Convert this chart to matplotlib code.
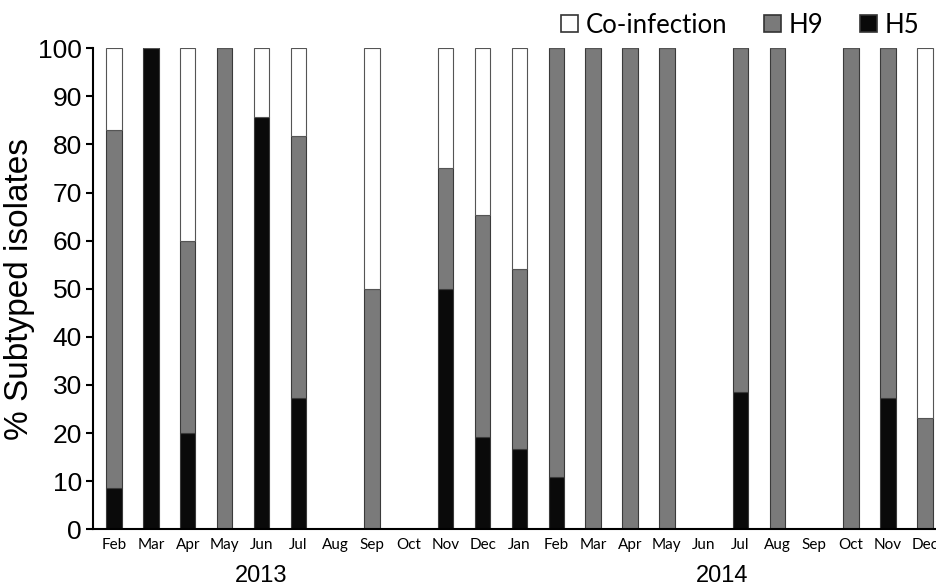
import matplotlib
matplotlib.use("Agg")
import matplotlib.pyplot as plt
import matplotlib.transforms as mtransforms
from matplotlib.patches import Patch
import numpy as np

months = ["Feb", "Mar", "Apr", "May", "Jun", "Jul", "Aug", "Sep", "Oct", "Nov", "Dec",
          "Jan", "Feb", "Mar", "Apr", "May", "Jun", "Jul", "Aug", "Sep", "Oct", "Nov", "Dec"]
h5 = [8.5, 100, 20, 0, 85.7, 27.3, 0, 0, 0, 50, 19.2,
      16.7, 10.8, 0, 0, 0, 0, 28.5, 0, 0, 0, 27.2, 0]
h9 = [74.5, 0, 40, 100, 0, 54.5, 0, 50, 0, 25, 46.2,
      37.5, 89.2, 100, 100, 100, 0, 71.5, 100, 0, 100, 72.8, 23.2]
coinf = [17, 0, 40, 0, 14.3, 18.2, 0, 50, 0, 25, 34.6,
         45.8, 0, 0, 0, 0, 0, 0, 0, 0, 0, 0, 76.8]
years = ["2013", "2014"]
year_pos = [4.0, 16.5]

fig = plt.figure(figsize=(9.37, 5.88), dpi=100)
ax = fig.add_axes([0.0993, 0.0998, 0.9007, 0.8182])

x = np.arange(len(months))
w = 0.42
h5a = np.array(h5); h9a = np.array(h9); coa = np.array(coinf)
ec = "#3a3a3a"
lw = 0.8
ax.bar(x, h5a, w, color="#0a0a0a", edgecolor=ec, linewidth=lw)
ax.bar(x, h9a, w, bottom=h5a, color="#7a7a7a", edgecolor=ec, linewidth=lw)
ax.bar(x, coa, w, bottom=h5a + h9a, color="white", edgecolor="#555555", linewidth=lw)

ax.set_xlim(-0.57, 22.33)
ax.set_ylim(0, 100)
ax.set_yticks(range(0, 101, 10))
ax.set_yticklabels([str(v) for v in range(0, 101, 10)], family="Liberation Sans", fontsize=19)
ax.set_xticks(x)
ax.set_xticklabels(months, family="Lato", fontsize=11)
ax.tick_params(axis="x", length=0, pad=6)
ax.tick_params(axis="y", length=5, width=1.5, direction="out", pad=3)
for s in ["top", "right"]:
    ax.spines[s].set_visible(False)
ax.spines["left"].set_linewidth(1.5)
ax.spines["bottom"].set_linewidth(1.5)
ax.set_ylabel("% Subtyped isolates", family="Liberation Sans", fontsize=24, labelpad=2)

trans = mtransforms.blended_transform_factory(ax.transData, fig.transFigure)
for yl, yp in zip(years, year_pos):
    ax.text(yp, 0.5 / 588, yl, transform=trans, ha="center", va="bottom",
            family="Liberation Sans", fontsize=17)

handles = [Patch(facecolor="white", edgecolor="#333333", linewidth=1.2),
           Patch(facecolor="#7a7a7a", edgecolor="#333333", linewidth=1.2),
           Patch(facecolor="#0a0a0a", edgecolor="#333333", linewidth=1.2)]
fig.legend(handles, ["Co-infection", "H9", "H5"], loc="upper right",
           bbox_to_anchor=(1.006, 1.018), ncol=3, frameon=False,
           prop={"family": "Lato", "size": 18.5}, handlelength=0.68, handleheight=0.68,
           handletextpad=0.3, columnspacing=1.4)

fig.savefig("out.png", dpi=100)
